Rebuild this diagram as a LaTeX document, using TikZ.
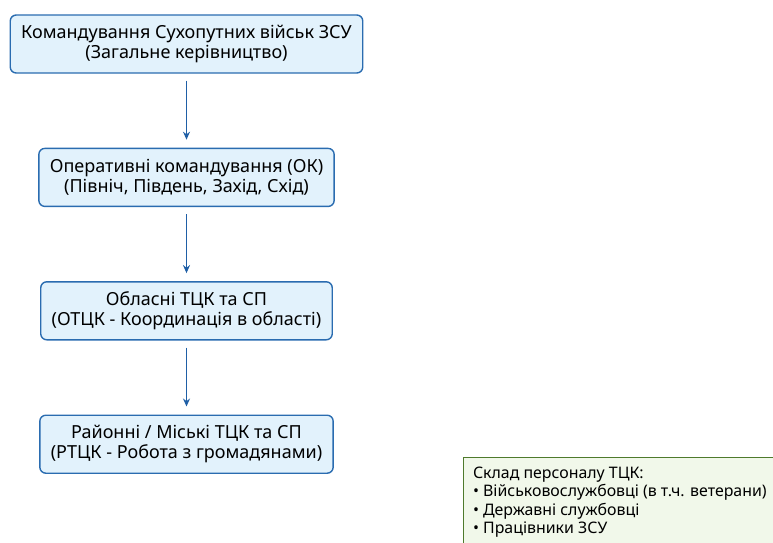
\documentclass[tikz,border=0pt]{standalone}
\usepackage{fontspec}
\setmainfont{Noto Sans}
\usetikzlibrary{arrows.meta, positioning}

\definecolor{boxfill}{HTML}{E2F2FC}
\definecolor{boxline}{HTML}{2A6CB0}
\definecolor{arrowblue}{HTML}{1F5FA6}
\definecolor{notefill}{HTML}{F1F8EA}
\definecolor{noteline}{HTML}{4E7A2C}

\begin{document}
\begin{tikzpicture}[
    x=1pt, y=1pt,
    every node/.style={font=\fontsize{18}{20}\selectfont},
    level/.style={draw=boxline, fill=boxfill, line width=1.4pt, rounded corners=6pt,
      align=center, inner xsep=11pt, minimum height=58pt},
    link/.style={-{Stealth[length=8pt,width=7pt]}, draw=arrowblue, line width=1.8pt,
      shorten <=7pt, shorten >=8pt},
    note/.style={draw=noteline, fill=notefill, line width=1pt, align=left,
      anchor=north west, inner xsep=10pt, inner ysep=9pt,
      font=\fontsize{15.9}{18.5}\selectfont},
  ]
  \clip (0,0) rectangle (773,-542);
  \node[level] (command) at (186.5,-44)
    {Командування Сухопутних військ ЗСУ\\(Загальне керівництво)};
  \node[level, below=74pt of command] (oc)
    {Оперативні командування (ОК)\\(Північ, Південь, Захід, Схід)};
  \node[level, below=74pt of oc] (otck)
    {Обласні ТЦК та СП\\(ОТЦК - Координація в області)};
  \node[level, below=74pt of otck] (rtck)
    {Районні / Міські ТЦК та СП\\(РТЦК - Робота з громадянами)};
  \draw[link] (command) -- (oc);
  \draw[link] (oc) -- (otck);
  \draw[link] (otck) -- (rtck);
  % склад персоналу
  \node[note] (staff) at (462.5,-457)
    {Склад персоналу ТЦК:\\• Військовослужбовці (в т.ч. ветерани)\\• Державні службовці\\• Працівники ЗСУ};
\end{tikzpicture}
\end{document}
